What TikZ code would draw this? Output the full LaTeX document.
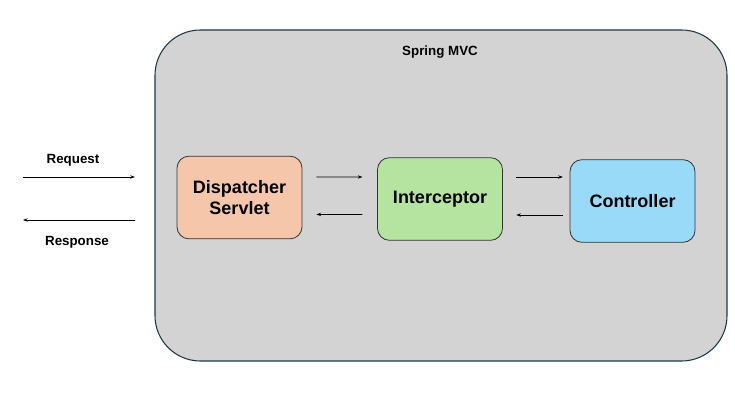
\documentclass[tikz,border=0pt]{standalone}
\usepackage{fontspec}
\setmainfont{Liberation Sans}
\usetikzlibrary{arrows.meta,positioning,shapes}
\definecolor{mvcgray}{HTML}{D3D3D3}
\definecolor{mvcedge}{HTML}{1F3846}
\definecolor{dispfill}{HTML}{F5C6AA}
\definecolor{interfill}{HTML}{B5E3A0}
\definecolor{ctrlfill}{HTML}{98DAF7}
\tikzset{
  part/.style={draw=black!80,line width=0.6pt,rounded corners=9pt,minimum width=93.75pt,minimum height=62pt,
    inner sep=0pt,align=center,font=\fontsize{13.5}{16}\selectfont\bfseries},
  flow/.style={-{Stealth[length=3.5pt,width=2.5pt]},line width=0.6pt},
  lbl/.style={font=\fontsize{10}{12}\selectfont\bfseries}
}
\begin{document}
\begin{tikzpicture}[x=0.75pt,y=-0.75pt]
      \useasboundingbox (0,0) rectangle (735,398);
      \draw[draw=mvcedge,fill=mvcgray,line width=0.8pt,rounded corners=34pt] (155,30) rectangle (727,361);
      \node[lbl] (title) at (440,52) {Spring MVC};
      \node[part,fill=dispfill] (disp) at (239.5,197.5) {Dispatcher\\Servlet};
      \node[part,fill=interfill] (inter) at (440,199) {Interceptor};
      \node[part,fill=ctrlfill] (ctrl) at (632.5,201) {Controller};
      \coordinate (client1) at (23,177); \coordinate (client2) at (23,220);
      \coordinate (entry1) at (135,177); \coordinate (entry2) at (135,220);
      \draw[flow] (client1)--(entry1); \draw[flow] (entry2)--(client2);
      \node[lbl] (req) at (73,160) {Request};
      \node[lbl] (resp) at (77,242) {Response};
      \draw[flow,shorten <=10.5pt,shorten >=11pt] ([yshift=15.4pt]disp.east)--([yshift=16.5pt]inter.west);
      \draw[flow,shorten <=11pt,shorten >=10.5pt] ([yshift=-11.6pt]inter.west)--([yshift=-12.7pt]disp.east);
      \draw[flow,shorten <=10pt,shorten >=5pt] ([yshift=16.5pt]inter.east)--([yshift=18pt]ctrl.west);
      \draw[flow,shorten <=5pt,shorten >=10pt] ([yshift=-10.5pt]ctrl.west)--([yshift=-12pt]inter.east);
    \end{tikzpicture}
\end{document}
